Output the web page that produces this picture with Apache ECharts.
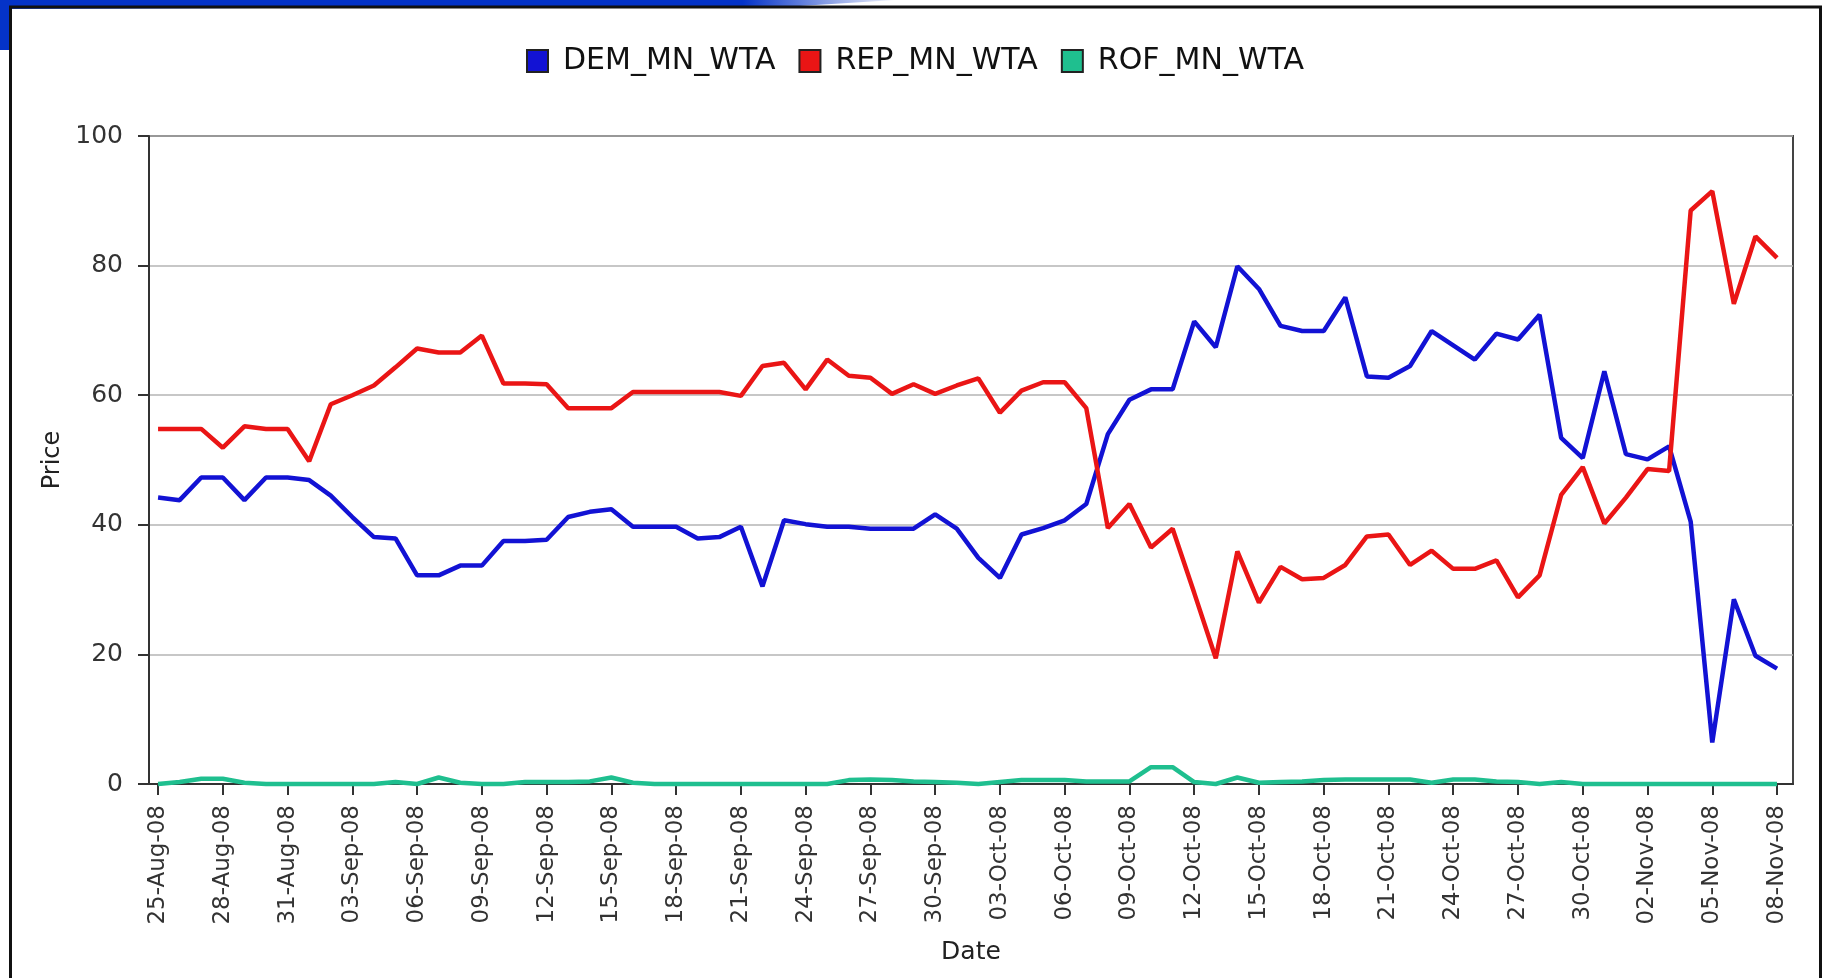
<!DOCTYPE html>
<html>
<head>
<meta charset="utf-8">
<title>MN WTA prices</title>
<script src="https://cdn.jsdelivr.net/npm/echarts@6.0.0/dist/echarts.min.js"></script>
<style>
	html, body { margin: 0; padding: 0; background: #fff; }
	#chart { width: 1825px; height: 978px; }
</style>
</head>
<body>
<div id="chart"></div>
<script>
const dates = [
	'25-Aug-08', '26-Aug-08', '27-Aug-08', '28-Aug-08', '29-Aug-08', '30-Aug-08', '31-Aug-08',
	'01-Sep-08', '02-Sep-08', '03-Sep-08', '04-Sep-08', '05-Sep-08', '06-Sep-08', '07-Sep-08', '08-Sep-08',
	'09-Sep-08', '10-Sep-08', '11-Sep-08', '12-Sep-08', '13-Sep-08', '14-Sep-08', '15-Sep-08', '16-Sep-08',
	'17-Sep-08', '18-Sep-08', '19-Sep-08', '20-Sep-08', '21-Sep-08', '22-Sep-08', '23-Sep-08', '24-Sep-08',
	'25-Sep-08', '26-Sep-08', '27-Sep-08', '28-Sep-08', '29-Sep-08', '30-Sep-08',
	'01-Oct-08', '02-Oct-08', '03-Oct-08', '04-Oct-08', '05-Oct-08', '06-Oct-08', '07-Oct-08', '08-Oct-08',
	'09-Oct-08', '10-Oct-08', '11-Oct-08', '12-Oct-08', '13-Oct-08', '14-Oct-08', '15-Oct-08', '16-Oct-08',
	'17-Oct-08', '18-Oct-08', '19-Oct-08', '20-Oct-08', '21-Oct-08', '22-Oct-08', '23-Oct-08', '24-Oct-08',
	'25-Oct-08', '26-Oct-08', '27-Oct-08', '28-Oct-08', '29-Oct-08', '30-Oct-08', '31-Oct-08',
	'01-Nov-08', '02-Nov-08', '03-Nov-08', '04-Nov-08', '05-Nov-08', '06-Nov-08', '07-Nov-08', '08-Nov-08'
];

// every third day gets a tick and a label
const labelDays = [0, 3, 6, 9, 12, 15, 18, 21, 24, 27, 30, 33, 36, 39, 42, 45, 48, 51, 54, 57, 60, 63, 66, 69, 72, 75];

const seriesNames = ['DEM_MN_WTA', 'REP_MN_WTA', 'ROF_MN_WTA'];
const seriesColors = ['#1212d4', '#ea1515', '#1fbf8f'];

const dem = [
	44.2, 43.8, 47.3, 47.3, 43.8, 47.3, 47.3, 46.9, 44.5, 41.2, 38.1, 37.9, 32.2, 32.2, 33.7, 33.7,
	37.5, 37.5, 37.7, 41.2, 42.0, 42.4, 39.7, 39.7, 39.7, 37.9, 38.1, 39.7, 30.5, 40.7, 40.1, 39.7,
	39.7, 39.4, 39.4, 39.4, 41.6, 39.4, 34.9, 31.8, 38.5, 39.5, 40.7, 43.2, 54.0, 59.3, 60.9, 60.9,
	71.4, 67.4, 79.9, 76.4, 70.7, 69.9, 69.9, 75.1, 62.9, 62.7, 64.5, 69.9, 67.7, 65.5, 69.5, 68.6,
	72.4, 53.4, 50.3, 63.7, 50.9, 50.1, 52.1, 40.5, 6.4, 28.5, 19.8, 17.8
];

const rep = [
	54.8, 54.8, 54.8, 51.9, 55.2, 54.8, 54.8, 49.8, 58.6, 60.0, 61.5, 64.3, 67.2, 66.6, 66.6, 69.2,
	61.8, 61.8, 61.7, 58.0, 58.0, 58.0, 60.5, 60.5, 60.5, 60.5, 60.5, 59.9, 64.5, 65.0, 60.9, 65.5,
	63.0, 62.7, 60.2, 61.7, 60.2, 61.5, 62.6, 57.3, 60.7, 62.0, 62.0, 58.0, 39.5, 43.2, 36.5, 39.4,
	29.5, 19.4, 35.9, 28.0, 33.5, 31.6, 31.8, 33.8, 38.2, 38.5, 33.8, 36.0, 33.2, 33.2, 34.5, 28.8,
	32.2, 44.6, 48.9, 40.2, 44.2, 48.6, 48.3, 88.5, 91.5, 74.1, 84.5, 81.2
];

const rof = [
	0, 0.3, 0.8, 0.8, 0.2, 0, 0, 0, 0, 0, 0, 0.3, 0, 1.0, 0.2, 0,
	0, 0.3, 0.3, 0.3, 0.4, 1.0, 0.2, 0, 0, 0, 0, 0, 0, 0, 0, 0,
	0.6, 0.7, 0.6, 0.4, 0.3, 0.2, 0, 0.3, 0.6, 0.6, 0.6, 0.4, 0.4, 0.4, 2.6, 2.6,
	0.3, 0, 1.0, 0.2, 0.3, 0.4, 0.6, 0.7, 0.7, 0.7, 0.7, 0.2, 0.7, 0.7, 0.4, 0.3,
	0, 0.3, 0, 0, 0, 0, 0, 0, 0, 0, 0, 0
];

const yTicks = [0, 20, 40, 60, 80, 100];

const font = 'DejaVu Sans',
	axisColor = '#333',
	chart = echarts.init(document.getElementById('chart'), null, { renderer: 'canvas' }),
	toPoints = values => values.map((v, i) => [i, v]);

chart.setOption({
	animation: false,
	backgroundColor: '#fff',
	color: seriesColors,
	graphic: [
		{
			type: 'rect',
			shape: { x: 0, y: 0, width: 10, height: 50 },
			style: { fill: '#0433c8' }
		},
		{
			type: 'polygon',
			shape: { points: [[0, 0], [895, 0], [800, 6], [0, 9]] },
			style: {
				fill: new echarts.graphic.LinearGradient(0, 0, 1, 0, [
					{ offset: 0, color: '#0433c8' },
					{ offset: 0.83, color: '#0433c8' },
					{ offset: 1, color: 'rgba(4,51,200,0.05)' }
				])
			}
		},
		{
			type: 'rect',
			z: 10,
			shape: { x: 10.5, y: 7, width: 1810, height: 1000 },
			style: { fill: 'none', stroke: '#111', lineWidth: 3 }
		}
	],
	legend: {
		left: 521,
		top: 41,
		itemWidth: 21,
		itemHeight: 22,
		itemGap: 23,
		icon: 'rect',
		itemStyle: { borderColor: '#222', borderWidth: 2 },
		textStyle: { fontFamily: font, fontSize: 30, color: '#111', padding: [0, 0, 0, 10] },
		data: seriesNames
	},
	grid: {
		left: 149,
		right: 32,
		top: 136,
		bottom: 194,
		show: true,
		borderColor: '#444',
		borderWidth: 2,
		backgroundColor: '#fff'
	},
	xAxis: {
		type: 'value',
		min: -0.42,
		max: 75.74,
		name: 'Date',
		nameLocation: 'middle',
		nameGap: 156,
		nameTextStyle: { fontFamily: font, fontSize: 25, color: '#222' },
		splitLine: { show: false },
		axisLine: { onZero: false, lineStyle: { color: axisColor, width: 2 } },
		axisTick: {
			customValues: labelDays,
			length: 11,
			lineStyle: { color: axisColor, width: 2 }
		},
		axisLabel: {
			customValues: labelDays,
			rotate: 90,
			margin: 21,
			fontFamily: font,
			fontSize: 23,
			color: '#333',
			formatter: v => dates[Math.round(v)]
		}
	},
	yAxis: {
		type: 'value',
		min: yTicks[0],
		max: yTicks[yTicks.length - 1],
		interval: 20,
		name: 'Price',
		nameLocation: 'middle',
		nameRotate: 90,
		nameGap: 83,
		nameTextStyle: { fontFamily: font, fontSize: 24, color: '#222' },
		axisLine: { show: true, onZero: false, lineStyle: { color: axisColor, width: 2 } },
		axisTick: { show: true, length: 11, lineStyle: { color: axisColor, width: 2 } },
		axisLabel: { margin: 26, fontFamily: font, fontSize: 25, color: '#333' },
		splitLine: { lineStyle: { color: '#b4b4b4', width: 1.5 } }
	},
	series: [dem, rep, rof].map((values, k) => ({
		name: seriesNames[k],
		type: 'line',
		data: toPoints(values),
		showSymbol: false,
		clip: k !== 2,
		lineStyle: { width: 4.5, color: seriesColors[k] },
		itemStyle: { color: seriesColors[k] },
		z: 3 + k
	}))
});
</script>
</body>
</html>
